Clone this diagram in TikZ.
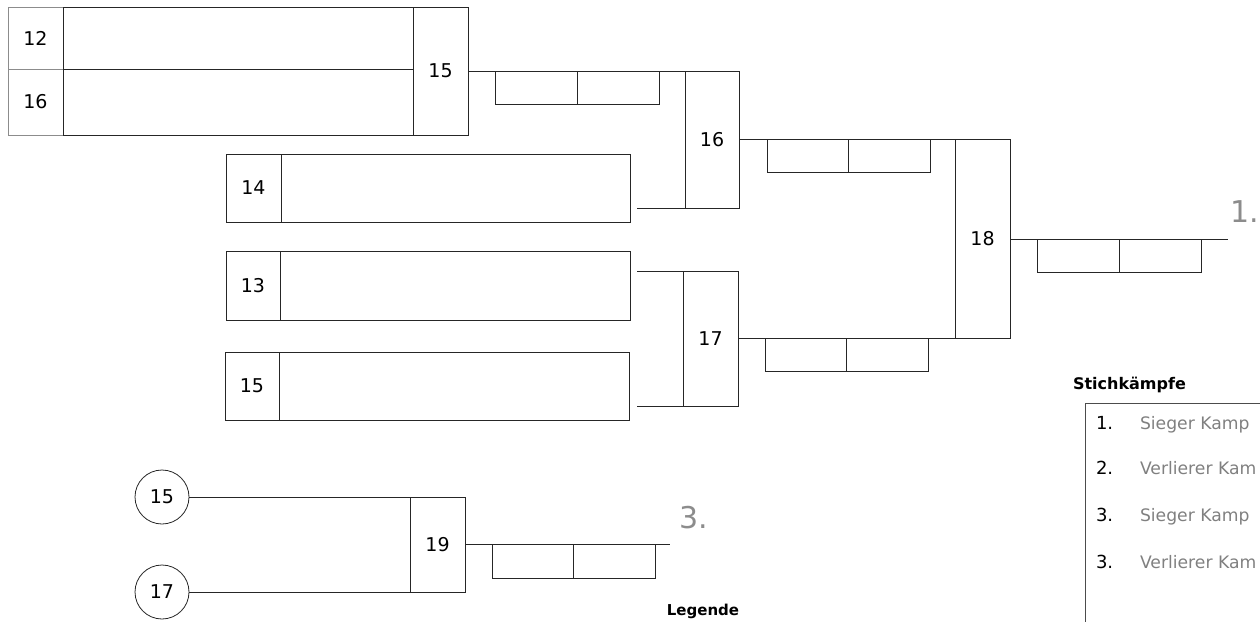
\documentclass[tikz,border=0pt]{standalone}
\usepackage{fontspec}
\setmainfont{DejaVu Sans}
\usetikzlibrary{calc}
\begin{document}
\begin{tikzpicture}[x=1pt,y=-1pt,
  every node/.style={inner sep=0pt, outer sep=0pt},
  wh/.style 2 args={minimum width=#1pt, minimum height=#2pt},
  cell/.style={draw=black!85, line width=1pt, rectangle, font=\fontsize{19}{22}\selectfont},
  seedcircle/.style={draw=black!85, line width=0.8pt, circle, minimum size=54pt, font=\fontsize{19}{22}\selectfont},
  conn/.style={draw=black!85, line width=1pt},
  place/.style={text=black!45, font=\fontsize{30}{32}\selectfont},
  legtitle/.style={font=\bfseries\fontsize{16}{19}\selectfont, anchor=base west},
  legnum/.style={font=\fontsize{18}{21}\selectfont, anchor=base west},
  legtext/.style={font=\fontsize{17.2}{20}\selectfont, text=black!50, anchor=base west}]
\useasboundingbox (0,0) rectangle (1260,621);
\clip (0,0) rectangle (1260,621);
% block 1
\node[cell, wh={55}{62}, draw=black!45] (l12) at (35.5,38) {12};
\node[cell, wh={350}{62}] (n12) at (238,38) {};
\node[cell, wh={55}{66}, draw=black!45] (l16) at (35.5,102) {16};
\node[cell, wh={350}{66}] (n16) at (238,102) {};
\node[cell, wh={55}{128}] (m15) at (440.5,71) {15};
% match 16
\node[cell, wh={54}{137}] (m16) at (712,139.5) {16};
\node[cell, wh={82}{33}] (s15a) at (536,87.5) {};
\node[cell, wh={82}{33}] (s15b) at (618,87.5) {};
\draw[conn] (m15.east) -- (m16.north east);
% seeds 14, 13, 15
\node[cell, wh={55}{68}] (l14) at (253.5,188) {14};
\node[cell, wh={349}{68}] (n14) at (455.5,188) {};
\node[cell, wh={54}{69}] (l13) at (253,285.5) {13};
\node[cell, wh={350}{69}] (n13) at (455,285.5) {};
\node[cell, wh={54}{68}] (l15) at (252,386) {15};
\node[cell, wh={350}{68}] (n15) at (454,386) {};
\coordinate (c14) at (637,208);
\coordinate (c13) at (637,271);
\coordinate (c15) at (637,406);
\draw[conn] (c14) -- (m16.south west);
% match 17
\node[cell, wh={55}{135}] (m17) at (710.5,338.5) {17};
\draw[conn] (c13) -- (m17.north west);
\draw[conn] (c15) -- (m17.south west);
% match 18
\node[cell, wh={55}{199}] (m18) at (982.5,239) {18};
\draw[conn] (m16.east) -- (m18.north east);
\draw[conn] (m17.east) -- (m18.south west);
\node[cell, wh={81}{32.5}] (s16a) at (807.5,155.75) {};
\node[cell, wh={82}{32.5}] (s16b) at (889,155.75) {};
\node[cell, wh={81}{32.5}] (s17a) at (805.5,354.75) {};
\node[cell, wh={82}{32.5}] (s17b) at (887,354.75) {};
% final
\coordinate (w1) at (1228,239);
\draw[conn] (m18.east) -- (w1);
\node[cell, wh={82}{33}] (s18a) at (1078,255.5) {};
\node[cell, wh={82}{33}] (s18b) at (1160,255.5) {};
\node[place] (p1) at (1245,212) {1.};
% third place
\node[seedcircle] (k15) at (162,497) {15};
\node[seedcircle] (k17) at (162,592) {17};
\node[cell, wh={55}{95}] (m19) at (437.5,544.5) {19};
\draw[conn] (k15.east) -- (m19.north east);
\draw[conn] (k17.east) -- (m19.south west);
\coordinate (w3) at (670,544.5);
\draw[conn] (m19.east) -- (w3);
\node[cell, wh={81}{33.5}] (s19a) at (532.5,561.25) {};
\node[cell, wh={82}{33.5}] (s19b) at (614,561.25) {};
\node[place] (p3) at (694,518) {3.};
% legend
\node[legtitle] (stk) at (1073,389) {Stichkämpfe};
\draw[conn, draw=black!70] (1280,403) -- (1085,403) -- (1085,640);
\node[legnum] (i1) at (1096,429) {1.};
\node[legtext] (t1) at (1140,429) {Sieger Kamp};
\node[legnum] (i2) at (1096,474) {2.};
\node[legtext] (t2) at (1140,474) {Verlierer Kam};
\node[legnum] (i3) at (1096,521) {3.};
\node[legtext] (t3) at (1140,521) {Sieger Kamp};
\node[legnum] (i4) at (1096,568) {3.};
\node[legtext] (t4) at (1140,568) {Verlierer Kam};
\node[font=\bfseries\fontsize{15}{18}\selectfont] (leg) at (703,611) {Legende};
\end{tikzpicture}
\end{document}
